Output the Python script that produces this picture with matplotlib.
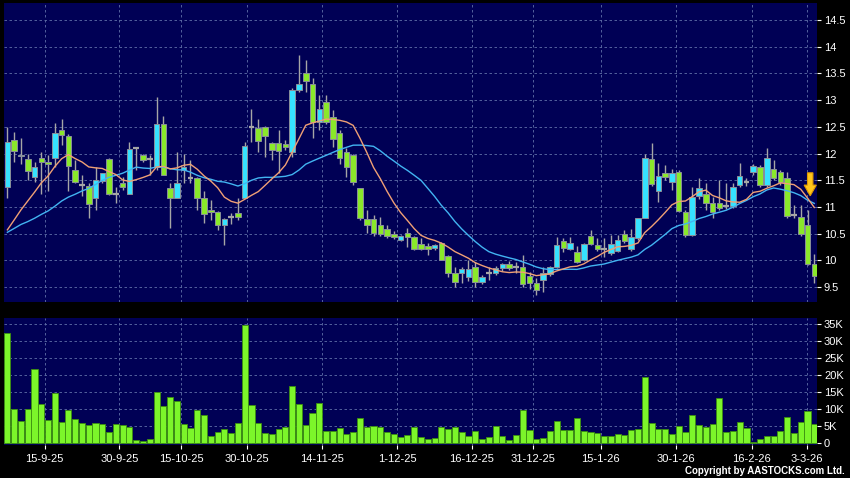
import matplotlib
matplotlib.use('Agg')
import matplotlib.pyplot as plt
import numpy as np
import pandas as pd
from matplotlib.patches import FancyArrow

plt.rcParams['font.family'] = ['Liberation Sans', 'DejaVu Sans']

# ---------------- data ----------------
opens = [11.38, 12.25, 11.95, 11.89, 11.57, 11.92, 11.85, 11.91, 12.45, 12.33,
         11.70, 11.42, 11.39, 11.16, 11.49, 11.89, 11.25, 11.45, 11.25, 12.10,
         11.98, 11.89, 11.74, 12.55, 11.35, 11.16, 11.69, 11.55, 11.55, 11.16,
         10.95, 10.90, 10.66, 10.82, 10.89, 11.16, 12.50, 12.48, 12.50, 12.20,
         12.20, 12.18, 12.03, 13.20, 13.50, 13.30, 12.60, 12.97, 12.68, 12.38,
         12.03, 11.97, 11.35, 10.77, 10.77, 10.66, 10.58, 10.50, 10.39, 10.52,
         10.43, 10.30, 10.27, 10.24, 10.32, 10.09, 9.76, 9.77, 9.69, 9.88,
         9.59, 9.76, 9.76, 9.86, 9.94, 9.87, 9.87, 9.71, 9.57, 9.63,
         9.74, 9.88, 10.37, 10.22, 10.16, 10.00, 10.46, 10.29, 10.21, 10.13,
         10.18, 10.49, 10.21, 10.41, 10.79, 11.89, 11.30, 11.64, 11.47, 11.66,
         10.91, 10.47, 11.21, 11.25, 11.07, 11.07, 11.02, 11.02, 11.41, 11.47,
         11.66, 11.75, 11.41, 11.72, 11.66, 11.54, 10.85, 10.82, 10.66, 9.94]
highs = [12.50, 12.40, 12.30, 12.00, 11.85, 12.03, 11.97, 12.57, 12.65, 12.36,
         11.88, 11.60, 11.45, 11.75, 11.63, 11.92, 11.38, 11.57, 12.22, 12.12,
         12.00, 11.97, 13.06, 12.70, 11.45, 12.03, 11.99, 11.88, 11.57, 11.30,
         11.13, 10.92, 10.80, 10.88, 11.17, 12.22, 12.83, 12.64, 12.52, 12.22,
         12.44, 12.25, 13.22, 13.84, 13.76, 13.41, 13.10, 13.10, 12.81, 12.44,
         12.10, 12.00, 11.36, 10.94, 10.85, 10.82, 10.66, 10.55, 10.48, 10.60,
         10.45, 10.42, 10.32, 10.30, 10.35, 10.10, 9.88, 9.88, 10.00, 9.97,
         9.72, 9.88, 9.90, 9.96, 9.98, 9.97, 10.10, 9.79, 9.67, 9.88,
         9.90, 10.44, 10.41, 10.43, 10.27, 10.33, 10.57, 10.41, 10.41, 10.48,
         10.47, 10.57, 10.58, 10.80, 11.99, 12.19, 11.82, 11.78, 11.72, 11.69,
         10.94, 11.38, 11.54, 11.44, 11.19, 11.50, 11.45, 11.44, 11.82, 11.55,
         11.80, 11.78, 12.10, 11.88, 11.70, 11.66, 11.04, 11.04, 10.94, 10.12]
lows = [11.17, 11.85, 11.80, 11.50, 11.47, 11.25, 11.30, 11.75, 12.16, 11.30,
        11.44, 11.20, 10.80, 10.94, 11.45, 11.22, 11.07, 11.32, 11.25, 11.70,
        11.85, 11.60, 11.70, 11.60, 10.60, 11.16, 11.45, 11.44, 10.94, 10.70,
        10.75, 10.57, 10.29, 10.69, 10.75, 11.16, 12.22, 12.03, 11.93, 11.88,
        11.63, 12.07, 11.94, 13.16, 13.16, 12.29, 12.45, 12.55, 12.13, 11.80,
        11.57, 11.41, 10.75, 10.51, 10.45, 10.45, 10.42, 10.40, 10.36, 10.25,
        10.19, 10.19, 10.10, 10.20, 10.00, 9.69, 9.51, 9.57, 9.62, 9.51,
        9.55, 9.63, 9.72, 9.80, 9.82, 9.76, 9.51, 9.46, 9.35, 9.41,
        9.70, 9.85, 10.16, 10.20, 9.95, 9.98, 10.28, 10.18, 10.07, 10.10,
        10.15, 10.33, 10.18, 10.38, 10.79, 11.40, 11.10, 11.50, 11.32, 10.91,
        10.44, 10.45, 11.15, 10.94, 10.79, 10.95, 10.97, 10.99, 11.38, 11.40,
        11.60, 11.38, 11.38, 11.50, 11.42, 10.80, 10.79, 10.45, 9.92, 9.57]
closes = [12.22, 12.05, 11.98, 11.67, 11.75, 11.84, 11.80, 12.38, 12.35, 11.77,
          11.47, 11.42, 11.05, 11.50, 11.63, 11.25, 11.25, 11.37, 12.08, 12.10,
          11.88, 11.89, 12.55, 11.60, 11.16, 11.44, 11.74, 11.55, 11.16, 10.86,
          10.90, 10.66, 10.77, 10.82, 10.82, 12.15, 12.50, 12.24, 12.33, 12.07,
          12.05, 12.12, 13.20, 13.30, 13.35, 12.60, 12.83, 12.60, 12.27, 11.91,
          11.75, 11.47, 10.79, 10.66, 10.52, 10.49, 10.46, 10.44, 10.46, 10.43,
          10.22, 10.22, 10.21, 10.29, 10.01, 9.76, 9.60, 9.83, 9.83, 9.60,
          9.69, 9.76, 9.85, 9.94, 9.86, 9.87, 9.56, 9.57, 9.44, 9.77,
          9.87, 10.29, 10.24, 10.33, 9.97, 10.30, 10.31, 10.21, 10.21, 10.30,
          10.38, 10.37, 10.43, 10.79, 11.91, 11.43, 11.58, 11.57, 11.64, 10.93,
          10.47, 11.19, 11.35, 11.08, 10.91, 10.99, 11.02, 11.37, 11.58, 11.47,
          11.77, 11.41, 11.91, 11.54, 11.46, 10.83, 10.85, 10.50, 9.93, 9.71]
volumes_k = [32.3, 10.2, 6.5, 10.0, 21.7, 11.5, 6.8, 14.7, 6.3, 9.8,
             7.3, 6.0, 5.3, 6.1, 5.7, 3.3, 5.7, 5.5, 4.7, 0.9,
             0.6, 1.2, 15.1, 11.0, 13.5, 12.4, 5.6, 4.4, 9.9, 8.3,
             2.2, 3.5, 4.1, 3.2, 6.1, 34.7, 11.4, 6.1, 3.1, 2.9,
             4.3, 4.9, 17.0, 11.5, 5.3, 8.8, 12.0, 3.8, 3.8, 4.4,
             2.7, 3.3, 7.5, 4.8, 5.1, 4.7, 3.3, 2.8, 1.9, 2.5,
             4.8, 2.0, 1.2, 1.7, 4.8, 4.1, 4.7, 3.3, 2.2, 3.6,
             1.4, 1.8, 5.0, 2.2, 1.0, 2.5, 9.9, 4.0, 1.4, 1.5,
             3.8, 6.7, 3.9, 4.0, 7.5, 3.7, 3.3, 3.2, 2.3, 2.3,
             2.9, 2.4, 3.9, 4.3, 19.5, 5.9, 4.1, 4.1, 2.7, 5.0,
             3.3, 8.4, 5.3, 4.7, 5.6, 13.3, 3.5, 3.7, 6.3, 4.6,
             0.4, 1.4, 2.3, 2.1, 3.7, 7.7, 3.1, 6.3, 9.4, 5.8]
# closes of the 19 sessions before the window (only feed the moving averages)
prior_closes = [10.6, 10.5, 10.6, 10.5, 10.4, 10.5, 10.6, 10.4, 10.3, 10.4,
                10.2, 10.1, 10.0, 10.1, 10.1, 10.5, 10.6, 10.9, 11.0]

date_labels = ['15-9-25', '30-9-25', '15-10-25', '30-10-25', '14-11-25', '1-12-25',
               '16-12-25', '31-12-25', '15-1-26', '30-1-26', '16-2-26', '3-3-26']
date_tick_pos = [5.5, 16.5, 25.6, 35.3, 46.4, 57.5, 68.5, 77.5, 87.5, 98.6, 109.8, 117.9]
price_ticks = [9.5, 10, 10.5, 11, 11.5, 12, 12.5, 13, 13.5, 14, 14.5]
vol_ticks_k = [0, 5, 10, 15, 20, 25, 30, 35]

# ---------------- style ----------------
NAVY = '#000055'
GRID = '#6070a8'
CYAN = '#36e2ff'
GREEN = '#8ae82a'
EDGE = '#8a8f9a'
WICK = '#a6a6a6'
VOLG = '#7cf52a'
VOLE = '#3c8f10'
MA10C = '#f0a075'
MA20C = '#42b4f2'

W, H = 850, 478
fig = plt.figure(figsize=(W / 100, H / 100), dpi=100, facecolor='black')


def px_axes(l, t, r, b):
    return fig.add_axes([l / W, 1 - b / H, (r - l) / W, (b - t) / H])


ax = px_axes(4, 3, 817, 301.5)
axv = px_axes(4, 318, 817, 444.5)

o = np.array(opens); h = np.array(highs); lo = np.array(lows); c = np.array(closes)
n = len(c)
x = np.arange(n)
up = c > o
dn = c < o
flat = c == o

for a in (ax, axv):
    a.set_facecolor(NAVY)
    for s in a.spines.values():
        s.set_visible(False)
    a.set_xlim(-0.5, 119.4)
    a.set_xticks(date_tick_pos)
    a.grid(True, color=GRID, linestyle=(0, (3, 3)), linewidth=0.6)
    a.set_axisbelow(True)
    a.yaxis.tick_right()
    a.tick_params(axis='y', colors='white', length=3, width=0.8, labelsize=8, pad=2)

# candles
ax.vlines(x, lo, h, color=WICK, linewidth=1, zorder=2)
bw = 0.82
ax.bar(x[up], (c - o)[up], bottom=o[up], width=bw, color=CYAN, edgecolor=EDGE,
       linewidth=0.7, zorder=3)
ax.bar(x[dn], (o - c)[dn], bottom=c[dn], width=bw, color=GREEN, edgecolor=EDGE,
       linewidth=0.7, zorder=3)
ax.hlines(c[flat], x[flat] - bw / 2, x[flat] + bw / 2, color=WICK, linewidth=1.6, zorder=3)

# moving averages
allc = pd.Series(prior_closes + closes)
k = len(prior_closes)
ma10 = allc.rolling(10).mean().iloc[k:].values
ma20 = allc.rolling(20).mean().iloc[k:].values
ax.plot(x, ma20, color=MA20C, linewidth=1.0, zorder=4)
ax.plot(x, ma10, color=MA10C, linewidth=1.0, zorder=4)

# signal arrow
ax.add_patch(FancyArrow(118.4, 11.64, 0, -0.43, width=0.8, head_width=1.8,
                        head_length=0.2, length_includes_head=True,
                        facecolor='#ffc61c', edgecolor='#e09a00', linewidth=0.8, zorder=6))

ax.set_ylim(9.23, 14.82)
ax.set_yticks(price_ticks)
ax.set_yticklabels([f'{v:g}' for v in price_ticks])
ax.tick_params(axis='x', bottom=False, labelbottom=False)

# volume
axv.bar(x, volumes_k, width=0.9, color=VOLG, edgecolor=VOLE, linewidth=0.6, zorder=3)
axv.set_ylim(-0.3, 36.8)
axv.set_yticks(vol_ticks_k)
axv.set_yticklabels([('0' if v == 0 else f'{v}K') for v in vol_ticks_k])
axv.set_xticklabels(date_labels)
axv.tick_params(axis='x', colors='white', length=3, width=0.8, labelsize=8, pad=3.5)

fig.text(845 / W, 1 - 471 / H, 'Copyright by AASTOCKS.com Ltd.', ha='right', va='center',
         color='white', fontsize=7, fontweight='bold')

fig.savefig('out.png', dpi=100, facecolor='black')
